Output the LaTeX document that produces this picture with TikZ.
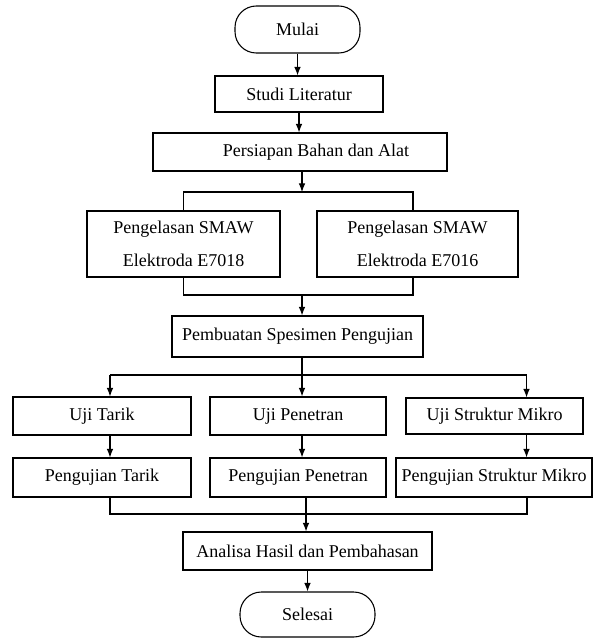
\documentclass[tikz,border=0pt]{standalone}
\usepackage{fontspec}
\setmainfont{Liberation Serif}
\usetikzlibrary{positioning,arrows.meta}

\begin{document}
\begin{tikzpicture}[
    x=0.75pt, y=-0.75pt,
    >={Latex[length=6.5pt, width=5pt]},
    line width=0.8pt,
    wh/.style 2 args={minimum width=#1*0.75pt, minimum height=#2*0.75pt},
    terminal/.style={rounded corners=16pt},
    every node/.style={ draw,
                        line width=0.8pt,
                        rectangle,
                        font=\fontsize{13.5}{16.2}\selectfont,
                        align=center,
                        inner sep=2pt}]

    \useasboundingbox (0,0) rectangle (593,638);

    \node[terminal, wh={125}{47}] (mulai) at (297.5,29.5) {Mulai};
    \node[wh={168}{36}] (studi) at (299,94) {Studi Literatur};
    \node[wh={294}{38}] (persiapan) at (300,152) {\hspace*{24pt}Persiapan Bahan dan Alat};

    \node[wh={193}{66}] (e7018) at (183.5,244) {Pengelasan SMAW\\[8.5pt]Elektroda E7018};
    \node[wh={201}{66}] (e7016) at (417.5,244) {Pengelasan SMAW\\[8.5pt]Elektroda E7016};

    \node[wh={251}{41}] (pembuatan) at (297.5,336.5) {Pembuatan Spesimen Pengujian};

    \node[wh={178}{38}] (ujitarik) at (102,416) {Uji Tarik};
    \node[wh={176}{38}] (ujipenetran) at (298,416) {Uji Penetran};
    \node[wh={177}{36}] (ujistruktur) at (494.5,416) {Uji Struktur Mikro};

    \node[wh={178}{39}] (pengtarik) at (102,477.5) {Pengujian Tarik};
    \node[wh={176}{39}] (pengpenetran) at (298,477.5) {Pengujian Penetran};
    \node[wh={196}{39}] (pengstruktur) at (494,477.5) {Pengujian Struktur Mikro};

    \node[wh={249}{38}] (analisa) at (307.5,551) {Analisa Hasil dan Pembahasan};
    \node[terminal, wh={135}{45}] (selesai) at (307.5,614.5) {Selesai};

    % split and merge points
    \coordinate (sa) at (302,192);
    \coordinate (ra) at (413,192);
    \coordinate (ma) at (302,295);
    \coordinate (sb) at (302,375);
    \coordinate (ka) at (110,375);
    \coordinate (kc) at (526.5,375);
    \coordinate (la) at (110,514);
    \coordinate (lc) at (527,514);
    \coordinate (mb) at (306,514);

    \draw[->] (mulai.south) -- (mulai.south |- studi.north);
    \draw[->] (studi.south) -- (studi.south |- persiapan.north);
    \draw[->] (persiapan.south -| sa) -- (sa);
    \draw (e7018.north) |- (ra) -- (e7016.north -| ra);
    \draw (e7018.south) |- (ma -| ra) -- (e7016.south -| ra);
    \draw[->] (ma) -- (ma |- pembuatan.north);

    \draw (pembuatan.south -| sb) -- (sb);
    \draw (ka) -- (kc);
    \draw[->] (ka) -- (ka |- ujitarik.north);
    \draw[->] (sb) -- (sb |- ujipenetran.north);
    \draw[->] (kc) -- (kc |- ujistruktur.north);

    \draw[->] (ujitarik.south -| ka) -- (pengtarik.north -| ka);
    \draw[->] (ujipenetran.south -| sb) -- (pengpenetran.north -| sb);
    \draw[->] (ujistruktur.south -| kc) -- (pengstruktur.north -| kc);

    \draw (pengtarik.south -| la) -- (la) -- (lc) -- (pengstruktur.south -| lc);
    \draw (pengpenetran.south -| mb) -- (mb);
    \draw[->] (mb) -- (mb |- analisa.north);
    \draw[->] (analisa) -- (selesai);

\end{tikzpicture}
\end{document}
